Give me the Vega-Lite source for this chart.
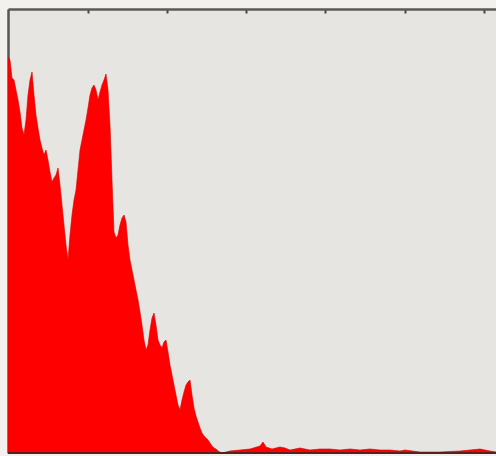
{
  "$schema": "https://vega.github.io/schema/vega-lite/v6.json",
  "width": 488,
  "height": 444,
  "autosize": "none",
  "padding": {"left": 8, "top": 9, "right": 0, "bottom": 3},
  "background": "#f2f1ee",
  "config": {
    "view": {"fill": "#e7e5e1", "stroke": null},
    "axis": {"grid": false, "labels": false, "title": null}
  },
  "data": {
    "values": [
      {"x": 0, "y": 396}, {"x": 2, "y": 393}, {"x": 4, "y": 375}, {"x": 6, "y": 373},
      {"x": 8, "y": 363}, {"x": 10, "y": 353}, {"x": 12, "y": 341}, {"x": 14, "y": 325},
      {"x": 16, "y": 318}, {"x": 18, "y": 333}, {"x": 20, "y": 358}, {"x": 22, "y": 373},
      {"x": 24, "y": 381}, {"x": 26, "y": 358}, {"x": 28, "y": 338}, {"x": 30, "y": 325},
      {"x": 32, "y": 313}, {"x": 34, "y": 305}, {"x": 36, "y": 298}, {"x": 38, "y": 303},
      {"x": 40, "y": 293}, {"x": 42, "y": 281}, {"x": 44, "y": 271}, {"x": 46, "y": 275},
      {"x": 48, "y": 278}, {"x": 50, "y": 285}, {"x": 52, "y": 268}, {"x": 54, "y": 248},
      {"x": 56, "y": 228}, {"x": 58, "y": 208}, {"x": 60, "y": 193}, {"x": 62, "y": 218},
      {"x": 64, "y": 238}, {"x": 66, "y": 253}, {"x": 68, "y": 263}, {"x": 70, "y": 283},
      {"x": 72, "y": 303}, {"x": 74, "y": 313}, {"x": 76, "y": 323}, {"x": 78, "y": 333},
      {"x": 80, "y": 345}, {"x": 82, "y": 358}, {"x": 84, "y": 365}, {"x": 86, "y": 368},
      {"x": 88, "y": 363}, {"x": 90, "y": 353}, {"x": 92, "y": 361}, {"x": 94, "y": 368},
      {"x": 96, "y": 373}, {"x": 98, "y": 379}, {"x": 100, "y": 363}, {"x": 102, "y": 328},
      {"x": 104, "y": 273}, {"x": 106, "y": 221}, {"x": 108, "y": 215}, {"x": 110, "y": 218},
      {"x": 112, "y": 228}, {"x": 114, "y": 235}, {"x": 116, "y": 238}, {"x": 118, "y": 231},
      {"x": 120, "y": 208}, {"x": 122, "y": 193}, {"x": 124, "y": 183}, {"x": 126, "y": 173},
      {"x": 128, "y": 163}, {"x": 130, "y": 153}, {"x": 132, "y": 141}, {"x": 134, "y": 128},
      {"x": 136, "y": 113}, {"x": 138, "y": 103}, {"x": 140, "y": 108}, {"x": 142, "y": 123},
      {"x": 144, "y": 135}, {"x": 146, "y": 140}, {"x": 148, "y": 128}, {"x": 150, "y": 113},
      {"x": 152, "y": 108}, {"x": 154, "y": 105}, {"x": 156, "y": 111}, {"x": 158, "y": 113},
      {"x": 160, "y": 101}, {"x": 162, "y": 88}, {"x": 164, "y": 78}, {"x": 166, "y": 68},
      {"x": 168, "y": 58}, {"x": 170, "y": 48}, {"x": 172, "y": 43}, {"x": 174, "y": 53},
      {"x": 176, "y": 61}, {"x": 178, "y": 68}, {"x": 180, "y": 71}, {"x": 182, "y": 73},
      {"x": 184, "y": 58}, {"x": 186, "y": 45}, {"x": 188, "y": 37}, {"x": 190, "y": 31},
      {"x": 192, "y": 25}, {"x": 194, "y": 20}, {"x": 196, "y": 17}, {"x": 198, "y": 15},
      {"x": 200, "y": 13}, {"x": 202, "y": 10}, {"x": 204, "y": 7}, {"x": 206, "y": 5},
      {"x": 208, "y": 4}, {"x": 210, "y": 2}, {"x": 212, "y": 1}, {"x": 214, "y": 0},
      {"x": 222, "y": 2}, {"x": 232, "y": 3}, {"x": 242, "y": 4}, {"x": 252, "y": 7},
      {"x": 255, "y": 11}, {"x": 258, "y": 6}, {"x": 264, "y": 4}, {"x": 272, "y": 6},
      {"x": 277, "y": 5}, {"x": 282, "y": 3}, {"x": 292, "y": 5}, {"x": 302, "y": 3},
      {"x": 312, "y": 4}, {"x": 322, "y": 4}, {"x": 332, "y": 3}, {"x": 342, "y": 4},
      {"x": 352, "y": 3}, {"x": 362, "y": 4}, {"x": 372, "y": 3}, {"x": 382, "y": 3},
      {"x": 392, "y": 2}, {"x": 397, "y": 3}, {"x": 412, "y": 1}, {"x": 432, "y": 1},
      {"x": 452, "y": 2}, {"x": 472, "y": 4}, {"x": 482, "y": 2}, {"x": 488, "y": 1}
    ]
  },
  "layer": [
    {
      "mark": {"type": "area", "color": "#ff0000", "stroke": "#d40000", "strokeWidth": 0.6, "clip": true},
      "encoding": {
        "x": {
          "field": "x", "type": "quantitative",
          "scale": {"domain": [0, 488], "nice": false, "zero": false},
          "axis": {"orient": "top", "values": [80, 159, 238, 317, 397, 476], "domainColor": "#5a5a5a", "domainWidth": 2.5, "tickColor": "#444", "tickSize": -4, "tickWidth": 2}
        },
        "y": {
          "field": "y", "type": "quantitative",
          "scale": {"domain": [0, 444], "nice": false},
          "axis": {"orient": "left", "ticks": false, "domainColor": "#555", "domainWidth": 2.5}
        }
      }
    },
    {
      "mark": {"type": "rule", "color": "#5a2020", "strokeWidth": 2},
      "encoding": {"y": {"datum": 0}}
    }
  ]
}
